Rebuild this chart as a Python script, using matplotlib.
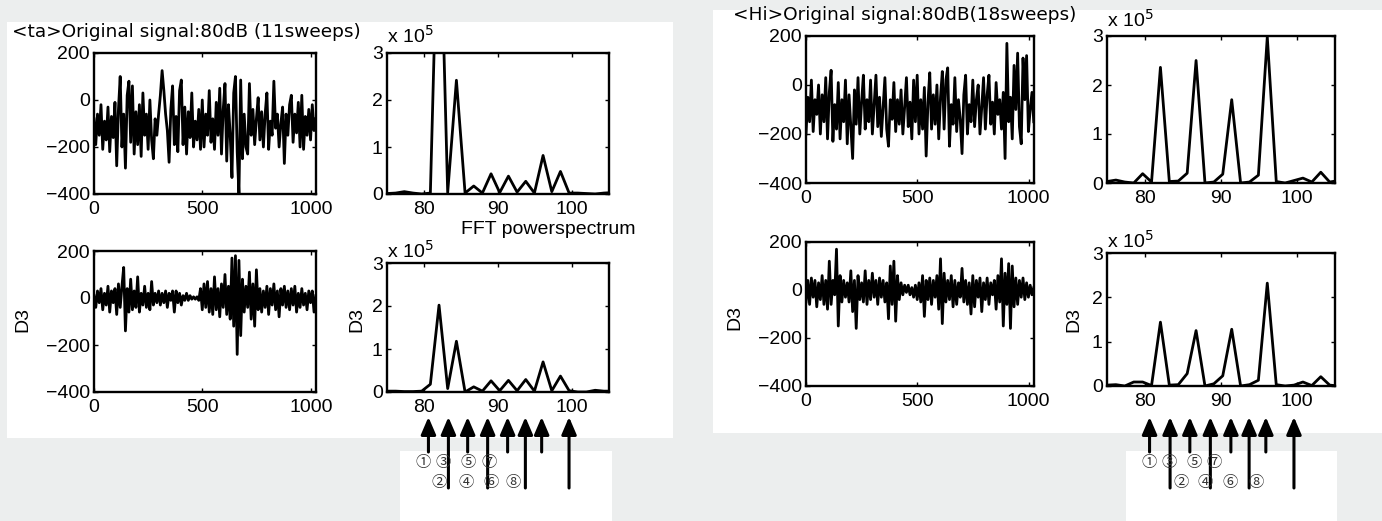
import numpy as np
import matplotlib.pyplot as plt
import matplotlib.transforms as mtransforms
from matplotlib.patches import Rectangle

# time signals, 128 points read across 0..1023 samples
ta_orig = [-80, -190, -60, -150, -20, -210, -90, -170, -30, -220, -70, -160, -10,
           -280, -40, 100, -200, -60, -290, 20, 80, -180, 60, -230, -50, -190,
           -20, -240, 30, -150, -60, -210, 0, -170, -250, -80, -150, -60, 20,
           125, 40, -60, -130, -265, -40, 60, -190, -70, -220, 40, 85, -190,
           -30, -230, -50, -160, 30, -200, -90, -170, -40, -210, 0, -200, -60,
           -150, 40, -180, -80, -210, -10, -150, 50, -230, -40, 70, -260, -20,
           -150, -330, 30, 100, -220, -400, 85, -250, -60, -200, -230, 70, -150,
           -40, -190, -80, 10, -170, -50, -200, -60, 30, -210, -90, -150, 80,
           -120, -60, -200, -100, -30, -270, -60, -150, -20, 20, -180, -60,
           -140, -10, -200, 20, -210, -70, -150, -40, -170, -20, -130, -80]
ta_d3 = [10, -40, 30, -20, 40, -50, 20, -30, 50, -60, 30, -20, 40, -70, 60, -40,
         50, 130, -140, 40, -60, 80, -50, 30, -40, 90, -60, 20, -30, 50, -40, 20,
         -50, 70, -30, 20, -20, 30, -30, 20, -20, 30, -40, 20, -10, 30, -60, 30,
         -20, 20, -30, 10, -10, 20, -10, 10, -5, 5, -5, 5, -10, 40, -50, 60,
         -40, 70, -60, 40, -70, 90, -50, 40, -80, 60, -40, 100, -70, 50, -90,
         170, -120, 180, -240, 160, -160, 80, -60, 50, -40, 110, -90, 60, -120,
         120, -50, 40, -60, 30, -40, 50, -70, 40, -30, 60, -50, 30, -80, 40,
         -30, 50, -40, 30, -50, 40, -30, 50, -60, 20, -40, 40, -30, 20, -50, 30,
         -20, 30, -60, 10]
hi_orig = [-200, -50, -150, 20, -190, -60, -120, 0, -200, -40, -150, 30, -220,
           -30, 60, -230, -80, -180, 10, -220, -60, -150, 20, -240, -40, -170,
           -300, -20, -160, 30, -200, -70, 40, -180, -60, -150, 20, -200, -80,
           40, -170, -50, -210, -90, 30, -180, -250, -60, -140, 10, -190, -60,
           -160, -20, -200, -90, 30, -170, -70, -220, 20, -150, 40, -200, -60,
           -180, -10, -290, -70, 50, -180, -40, -160, 0, -220, -50, 55, -180,
           20, 70, -250, -80, -160, 30, -190, -60, -140, -280, -40, 40, -200,
           -80, -150, 20, -170, -60, 0, -200, -90, 30, -180, -40, 40, -160, -70,
           -200, 10, -120, -60, -180, -30, -300, 170, -150, -50, -220, 80, -100,
           130, -170, -240, 110, -60, 120, -190, -100, -30, -150]
hi_d3 = [-50, 40, -60, 50, -30, 40, -70, 30, -40, 60, -60, 40, -80, 120, -60, 40,
         -20, 170, -150, 60, -50, 40, -30, 30, -50, 80, -90, 40, -160, 60, -40,
         30, -50, 80, -60, 40, -40, 70, -30, 40, -60, 50, -30, 40, -50, 30, -120,
         100, -60, 120, -130, 60, -40, 30, -20, 20, -10, 20, -20, 10, -30, 20,
         -40, 30, -50, 60, -110, 40, -40, 50, -60, 40, -30, 60, -80, 130, -140,
         70, -50, 40, -40, 60, -70, 40, -60, 30, -30, 90, -50, 40, -60, 30, -100,
         60, -70, 40, -30, 50, -90, 30, -40, 50, -60, 30, -20, 40, -80, 60, -50,
         130, -150, 70, -60, 110, -160, 100, -70, 50, -60, 40, -30, 50, -40, 30,
         -30, 20, -20, 10]

# FFT power spectrum (x 10^5)
freq = [75.00, 76.17, 77.34, 78.52, 79.69, 80.86, 82.03, 83.20, 84.38, 85.55,
        86.72, 87.89, 89.06, 90.23, 91.41, 92.58, 93.75, 94.92, 96.09, 97.27,
        98.44, 99.61, 100.78, 101.95, 103.13, 104.30, 105.47]
ta_fft = [0.01, 0.02, 0.05, 0.02, 0.00, 0.02, 7.0, 0.03, 2.42, 0.02, 0.17, 0.02,
          0.43, 0.03, 0.38, 0.04, 0.27, 0.02, 0.82, 0.05, 0.48, 0.02, 0.02, 0.01,
          0.00, 0.02, 0.03]
ta_fft_d3 = [0.02, 0.02, 0.01, 0.01, 0.02, 0.18, 2.02, 0.08, 1.18, 0.00, 0.12,
             0.02, 0.26, 0.03, 0.27, 0.03, 0.29, 0.02, 0.70, 0.03, 0.37, 0.03,
             0.00, 0.00, 0.04, 0.02, 0.02]
hi_fft = [0.03, 0.06, 0.02, 0.00, 0.19, 0.02, 2.36, 0.03, 0.04, 0.20, 2.50, 0.00,
          0.02, 0.18, 1.70, 0.00, 0.02, 0.16, 2.98, 0.03, 0.00, 0.05, 0.10, 0.02,
          0.22, 0.02, 0.05]
hi_fft_d3 = [0.02, 0.03, 0.00, 0.09, 0.09, 0.01, 1.44, 0.02, 0.03, 0.28, 1.25,
             0.00, 0.05, 0.23, 1.28, 0.00, 0.03, 0.13, 2.32, 0.03, 0.00, 0.02,
             0.09, 0.01, 0.21, 0.02, 0.00]

arrow_freq = [80.6, 83.3, 85.9, 88.6, 91.3, 93.7, 95.9, 99.6]
odd_marks = ['①', '③', '⑤', '⑦']
even_marks = ['②', '④', '⑥', '⑧']

W, H = 1382, 521
fig = plt.figure(figsize=(W / 100, H / 100), dpi=100)
fig.patch.set_facecolor('#eceeee')
tick_font = 'Liberation Sans'


def frac_rect(x0, y0, x1, y1):
    return [x0 / W, 1 - y1 / H, (x1 - x0) / W, (y1 - y0) / H]


def white_box(x0, y0, x1, y1):
    r = frac_rect(x0, y0, x1, y1)
    fig.add_artist(Rectangle((r[0], r[1]), r[2], r[3], transform=fig.transFigure,
                             facecolor='white', edgecolor='none', zorder=-1))


def style(ax):
    for s in ax.spines.values():
        s.set_linewidth(1.7)
    ax.tick_params(direction='in', length=3, width=1, top=True, right=True,
                   labelsize=14, pad=3)
    ax.tick_params(axis='x', pad=5)
    for lab in ax.get_xticklabels() + ax.get_yticklabels():
        lab.set_family(tick_font)


def time_axes(rect, y):
    ax = fig.add_axes(frac_rect(*rect))
    t = np.linspace(0, 1023, len(y))
    ax.plot(t, y, color='black', lw=2.0)
    ax.set_xlim(0, 1024)
    ax.set_ylim(-400, 200)
    ax.set_xticks([0, 500, 1000])
    ax.set_yticks([-400, -200, 0, 200])
    ax.set_yticklabels(['\u2212400', '\u2212200', '0', '200'])
    style(ax)
    return ax


def fft_axes(rect, y, exp_y):
    ax = fig.add_axes(frac_rect(*rect))
    ax.plot(freq, y, color='black', lw=2.0)
    ax.set_xlim(75, 105)
    ax.set_ylim(0, 3)
    ax.set_xticks([80, 90, 100])
    ax.set_yticks([0, 1, 2, 3])
    style(ax)
    fig.text(rect[0] / W, 1 - exp_y / H, r'x 10$^5$', fontsize=14, family=tick_font,
             ha='left', va='center')
    return ax


def arrows(ax, odd_x, even_x):
    trans = mtransforms.blended_transform_factory(ax.transData, fig.transFigure)
    for i, f in enumerate(arrow_freq):
        y_end = 452 if i % 2 == 0 else 488
        ax.annotate('', xy=(f, 1 - 417 / H), xycoords=trans,
                    xytext=(f, 1 - y_end / H), textcoords=trans,
                    arrowprops=dict(arrowstyle='-|>,head_length=0.7,head_width=0.3',
                                    lw=2.2, color='black', mutation_scale=15,
                                    shrinkA=0, shrinkB=0),
                    annotation_clip=False)
    for m, x in zip(odd_marks, odd_x):
        fig.text(x / W, 1 - 463 / H, m, fontsize=11, ha='center', va='center',
                 family=['Noto Sans CJK JP', 'DejaVu Sans'], color='#333333')
    for m, x in zip(even_marks, even_x):
        fig.text(x / W, 1 - 483 / H, m, fontsize=11, ha='center', va='center',
                 family=['Noto Sans CJK JP', 'DejaVu Sans'], color='#333333')


def ylabel_d3(x, y):
    fig.text(x / W, 1 - y / H, 'D3', rotation=90, fontsize=14, family=tick_font,
             ha='center', va='center')


# slide panels
white_box(7, 22, 673, 438)
white_box(713, 10, 1382, 433)
white_box(400, 451, 612, 521)
white_box(1126, 451, 1337, 521)

# left figure: <ta>
time_axes((94, 53, 316, 194), ta_orig)
fft_axes((387, 53, 609, 194), ta_fft, 36)
time_axes((94, 251, 316, 392), ta_d3)
ylabel_d3(23, 320)
ax = fft_axes((387, 263, 609, 392), ta_fft_d3, 251)
ylabel_d3(357, 320)
arrows(ax, [423, 443, 468, 489], [439, 466, 491, 513])
fig.text(12 / W, 1 - 32 / H, '<ta>Original signal:80dB (11sweeps)', fontsize=13.3,
         family='DejaVu Sans', ha='left', va='center')
fig.text(548 / W, 1 - 229 / H, 'FFT powerspectrum', fontsize=14, family=tick_font,
         ha='center', va='center')

# right figure: <Hi>
time_axes((806, 36, 1034, 183), hi_orig)
fft_axes((1107, 36, 1335, 183), hi_fft, 20)
time_axes((806, 242, 1034, 386), hi_d3)
ylabel_d3(735, 317)
ax = fft_axes((1107, 253, 1335, 386), hi_fft_d3, 241)
ylabel_d3(1074, 320)
arrows(ax, [1149, 1169, 1194, 1214], [1181, 1205, 1230, 1256])
fig.text(733 / W, 1 - 15 / H, '<Hi>Original signal:80dB(18sweeps)', fontsize=13.3,
         family='DejaVu Sans', ha='left', va='center')

fig.savefig('out.png', dpi=100, facecolor=fig.get_facecolor())
